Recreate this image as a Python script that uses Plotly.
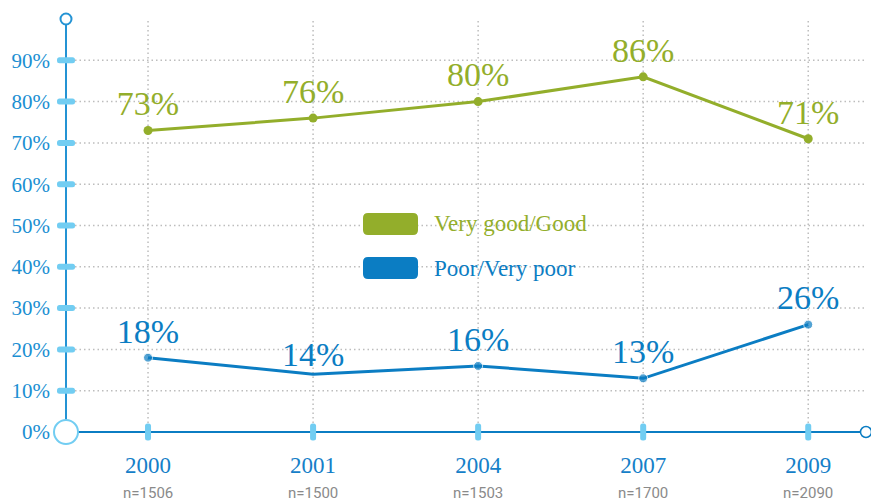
import plotly.graph_objects as go

# Survey years, sample sizes and shares (%) of self-rated health
years = ["2000", "2001", "2004", "2007", "2009"]
sample_sizes = ["n=1506", "n=1500", "n=1503", "n=1700", "n=2090"]
good = [73, 76, 80, 86, 71]
poor = [18, 14, 16, 13, 26]
y_ticks = [0, 10, 20, 30, 40, 50, 60, 70, 80, 90]

GREEN = "#93ae2b"
BLUE = "#0b7dc3"
AXIS_BLUE = "#2493d4"
LIGHT_BLUE = "#72cdf2"
GRID = "#bdbdbd"
SERIF = "Liberation Serif, Times New Roman, serif"

x_idx = list(range(len(years)))
X_MIN, X_MAX = -0.497, 4.35
Y_MIN, Y_MAX = 0, 100


def px(xv):
    """x data value -> paper fraction (shapes in paper space are not clipped)."""
    return (xv - X_MIN) / (X_MAX - X_MIN)


def py(yv):
    return (yv - Y_MIN) / (Y_MAX - Y_MIN)


fig = go.Figure()

fig.add_trace(go.Scatter(
    x=x_idx, y=good, mode="lines+markers+text",
    name="Very good/Good",
    line=dict(color=GREEN, width=3),
    marker=dict(color=GREEN, size=9),
    text=[f"{v}%" for v in good], textposition="top center",
    textfont=dict(family=SERIF, size=34, color=GREEN),
    cliponaxis=False, showlegend=False,
))
fig.add_trace(go.Scatter(
    x=x_idx, y=poor, mode="lines+markers+text",
    name="Poor/Very poor",
    line=dict(color=BLUE, width=3),
    marker=dict(color=BLUE, size=[9, 0, 9, 9, 9]),
    text=[f"{v}%" for v in poor], textposition="top center",
    textfont=dict(family=SERIF, size=34, color=BLUE),
    cliponaxis=False, showlegend=False,
))


def rounded(w, h, r):
    """Rounded rectangle path centred on its anchor, in pixels."""
    a, b = w / 2, h / 2
    return (f"M {-a + r},{-b} L {a - r},{-b} Q {a},{-b} {a},{-b + r} L {a},{b - r} "
            f"Q {a},{b} {a - r},{b} L {-a + r},{b} Q {-a},{b} {-a},{b - r} "
            f"L {-a},{-b + r} Q {-a},{-b} {-a + r},{-b} Z")


def pixel_shape(kind, xa, ya, **kw):
    d = dict(type=kind, xref="paper", yref="paper", xsizemode="pixel", ysizemode="pixel",
             xanchor=xa, yanchor=ya, layer="above")
    d.update(kw)
    return d


shapes = []

# dotted grid
for v in y_ticks[1:]:
    shapes.append(dict(type="line", xref="paper", yref="paper", x0=0, x1=1, y0=py(v), y1=py(v),
                       line=dict(color=GRID, width=1.5, dash="1.5px,3px"), layer="below"))
for i in x_idx:
    shapes.append(dict(type="line", xref="paper", yref="paper", x0=px(i), x1=px(i), y0=0, y1=1,
                       line=dict(color=GRID, width=1.5, dash="1.5px,3px"), layer="below"))

# axis lines
shapes.append(dict(type="line", xref="paper", yref="paper", x0=0, x1=0, y0=0, y1=py(98.7),
                   line=dict(color=AXIS_BLUE, width=2), layer="above"))
shapes.append(dict(type="line", xref="paper", yref="paper", x0=0, x1=px(X_MAX) - 0.006, y0=0, y1=0,
                   line=dict(color=BLUE, width=2), layer="below"))
# end circles
shapes.append(pixel_shape("circle", 0, py(100), x0=-5.5, x1=5.5, y0=-5.5, y1=5.5,
                          line=dict(color=AXIS_BLUE, width=2), fillcolor="white"))
shapes.append(pixel_shape("circle", 1, 0, x0=-5.5, x1=5.5, y0=-5.5, y1=5.5,
                          line=dict(color=BLUE, width=1.5), fillcolor="white"))

# tick dashes on the y axis
for v in y_ticks[1:]:
    shapes.append(pixel_shape("path", 0, py(v), path=rounded(18, 6, 2.5),
                              line=dict(width=0), fillcolor=LIGHT_BLUE))
# tick dashes on the x axis
for i in x_idx:
    shapes.append(pixel_shape("path", px(i), 0, path=rounded(6, 17, 2.5),
                              line=dict(width=0), fillcolor=LIGHT_BLUE))

# origin circle
shapes.append(pixel_shape("circle", 0, 0, x0=-12, x1=12, y0=-12, y1=12,
                          line=dict(color=LIGHT_BLUE, width=2), fillcolor="white"))

# legend swatches
shapes.append(pixel_shape("path", (390.5 - 66) / 800, (432 - 224) / 413, path=rounded(55, 22, 5),
                          line=dict(width=0), fillcolor=GREEN))
shapes.append(pixel_shape("path", (390.5 - 66) / 800, (432 - 268) / 413, path=rounded(55, 22, 5),
                          line=dict(width=0), fillcolor=BLUE))

annotations = []
annotations.append(dict(xref="paper", yref="paper", x=(432 - 66) / 800, y=(432 - 224) / 413,
                        text="Very good/Good", showarrow=False, xanchor="left", yanchor="middle",
                        font=dict(family=SERIF, size=23, color=GREEN)))
annotations.append(dict(xref="paper", yref="paper", x=(432 - 66) / 800, y=(432 - 268) / 413,
                        text="Poor/Very poor", showarrow=False, xanchor="left", yanchor="middle",
                        font=dict(family=SERIF, size=23, color=BLUE)))
for i, n in zip(x_idx, sample_sizes):
    annotations.append(dict(xref="x", yref="y", x=i, y=0, yshift=-61, text=n, showarrow=False,
                            xanchor="center", yanchor="middle",
                            font=dict(family="Roboto, sans-serif", size=15, color="#8a8a8a")))

fig.update_layout(
    width=871, height=502,
    margin=dict(l=66, r=5, t=19, b=70),
    paper_bgcolor="white", plot_bgcolor="white",
    shapes=shapes, annotations=annotations,
    xaxis=dict(range=[X_MIN, X_MAX], tickvals=x_idx, ticktext=years,
               showgrid=False, zeroline=False, showline=False, ticks="", ticklabelstandoff=17,
               tickfont=dict(family=SERIF, size=23, color="#1580c8")),
    yaxis=dict(range=[Y_MIN, Y_MAX], tickvals=y_ticks, ticktext=[f"{v}%" for v in y_ticks],
               showgrid=False, zeroline=False, showline=False, ticks="", ticklabelstandoff=15,
               tickfont=dict(family=SERIF, size=21, color="#1b8fd2")),
)

fig.write_html("out.html")
